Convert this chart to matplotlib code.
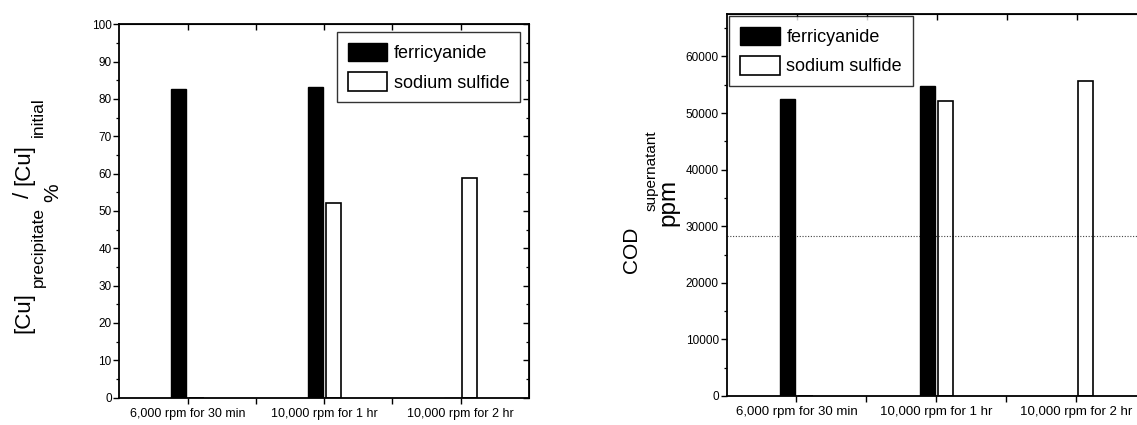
import numpy as np
import matplotlib
matplotlib.use("Agg")
import matplotlib.pyplot as plt
from matplotlib.ticker import MultipleLocator

plt.rcParams['font.family'] = ['Liberation Sans', 'DejaVu Sans']

# ---------------- data ----------------
categories = ['6,000 rpm for 30 min', '10,000 rpm for 1 hr', '10,000 rpm for 2 hr']
series_names = ['ferricyanide', 'sodium sulfide']
cu_ferricyanide = [82.7, 83.1, 0]
cu_sulfide = [0, 52.2, 58.9]
cod_ferricyanide = [52400, 54800, 0]
cod_sulfide = [0, 52200, 55700]
cod_reference = 28200

# ---------------- layout ----------------
W, H = 1137, 425
fig = plt.figure(figsize=(W / 100, H / 100), dpi=100)
axL = fig.add_axes([119.4 / W, 1 - 397.5 / H, 409.6 / W, 373.2 / H])
axR = fig.add_axes([726.5 / W, 1 - 396 / H, 420 / W, 382 / H])

x = np.arange(1, len(categories) + 1)
bw = 0.11
off = 0.066


def style_axes(ax, ymax, major, minor, xlabelsize):
    ax.set_xlim(0.5, 3.5)
    ax.set_ylim(0, ymax)
    for s in ax.spines.values():
        s.set_linewidth(1.3)
    ax.set_xticks([1, 1.5, 2, 2.5, 3])
    ax.set_xticklabels([categories[0], '', categories[1], '', categories[2]])
    ax.yaxis.set_major_locator(MultipleLocator(major))
    ax.yaxis.set_minor_locator(MultipleLocator(minor))
    ax.tick_params(axis='both', which='major', direction='out', length=4.5,
                   width=1.0, labelsize=8.5, pad=1)
    ax.tick_params(axis='x', which='major', labelsize=xlabelsize, pad=3)
    ax.tick_params(axis='y', which='minor', direction='out', length=2.5, width=0.9)
    # mirrored ticks pointing inwards
    top = ax.secondary_xaxis('top')
    top.set_xticks([1, 1.5, 2, 2.5, 3])
    top.set_xticklabels([])
    top.tick_params(direction='in', length=4, width=1.0)
    right = ax.secondary_yaxis('right')
    right.yaxis.set_major_locator(MultipleLocator(major))
    right.yaxis.set_minor_locator(MultipleLocator(minor))
    right.set_yticklabels([])
    right.tick_params(which='major', direction='in', length=4, width=1.0)
    right.tick_params(which='minor', direction='in', length=2.5, width=0.9)


def draw_bars(ax, v1, v2):
    ax.bar(x - off, v1, bw, color='black', edgecolor='black', linewidth=1.0,
           label=series_names[0], zorder=3)
    ax.bar(x + off, v2, bw, facecolor='none', edgecolor='black', linewidth=1.2,
           label=series_names[1], zorder=3)


def add_legend(ax, anchor):
    leg = ax.legend(loc='upper left', bbox_to_anchor=anchor, fontsize=13,
                    frameon=True, fancybox=False, edgecolor='black',
                    handlelength=2.2, handleheight=1.2, handletextpad=0.35,
                    labelspacing=0.55, borderpad=0.6, borderaxespad=0)
    leg.get_frame().set_linewidth(1.0)
    return leg


def build_label(ax, x0, y0, pieces):
    """pieces: (text, is_subscript, gap_pt, dx_pt, size)"""
    main0 = ax.text(x0, y0, pieces[0][0], transform=ax.transAxes, rotation=90,
                    fontsize=pieces[0][4], ha='center', va='bottom')
    prev = main0
    for text, is_sub, gap, dx, size in pieces[1:]:
        xfrac = 1.0 if is_sub else 0.5
        a = ax.annotate(text, xy=(xfrac, 1.0), xycoords=(main0, prev),
                        xytext=(dx, gap), textcoords='offset points',
                        rotation=90, fontsize=size, ha='center', va='bottom')
        prev = a


# ---------------- left chart ----------------
draw_bars(axL, cu_ferricyanide, cu_sulfide)
style_axes(axL, 100, 10, 5, 9)
add_legend(axL, (0.531, 0.979))
build_label(axL, -0.233, 0.173,
            [('[Cu]', False, 0, 0, 16),
             ('precipitate', True, 4, 3, 12.5),
             ('/', False, 6, 0, 16),
             ('[Cu]', False, 5, 0, 16),
             ('initial', True, 5, 3, 12.5)])
axL.text(-0.163, 0.55, '%', transform=axL.transAxes, rotation=90,
         fontsize=15, ha='center', va='center')

# ---------------- right chart ----------------
axR.axhline(cod_reference, color='#444444', linestyle=(0, (1, 1.5)),
            linewidth=0.8, zorder=1)
draw_bars(axR, cod_ferricyanide, cod_sulfide)
style_axes(axR, 67500, 10000, 5000, 9.5)
add_legend(axR, (0.007, 0.995))
build_label(axR, -0.225, 0.322,
            [('COD', False, 0, 0, 15),
             ('supernatant', True, 11, 7, 11)])
axR.text(-0.139, 0.508, 'ppm', transform=axR.transAxes, rotation=90,
         fontsize=17.5, ha='center', va='center')

fig.savefig('out.png', dpi=100)
